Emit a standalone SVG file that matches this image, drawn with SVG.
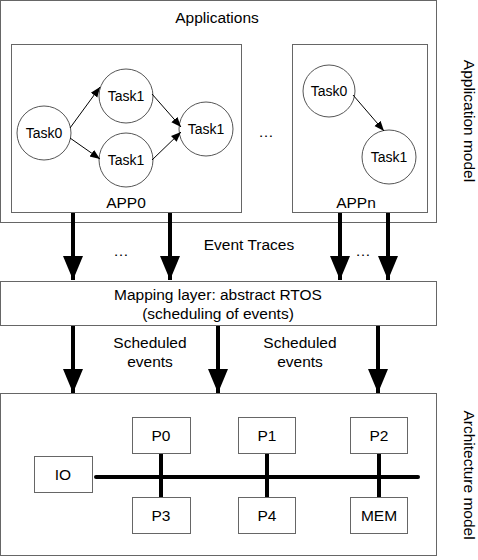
<svg xmlns="http://www.w3.org/2000/svg" width="478" height="560" viewBox="0 0 478 560">
<style>
text{font-family:"Liberation Sans",Arial,sans-serif;font-size:15.5px;fill:#000;text-anchor:middle}
text.t{font-size:14px}
.box{fill:#fff;stroke:#666;stroke-width:1}
.c{fill:#fff;stroke:#555;stroke-width:1}
.thin{stroke:#000;stroke-width:1;fill:none}
.thick{stroke:#000;stroke-width:4;fill:none}
</style>
<defs>
<marker id="ah" viewBox="0 0 10 10" refX="10" refY="5" markerWidth="10" markerHeight="10" markerUnits="userSpaceOnUse" orient="auto"><path d="M0,1 L10,5 L0,9 Z" fill="#000"/></marker>
<marker id="bh" viewBox="0 0 24 20" refX="24" refY="10" markerWidth="24" markerHeight="20" markerUnits="userSpaceOnUse" orient="auto"><path d="M0,0 L24,10 L0,20 Z" fill="#000"/></marker>
</defs>
<g id="applications">
<rect class="box" x="0.5" y="0.5" width="436" height="222"/>
<text x="217" y="23">Applications</text>
</g>
<g id="app0">
<rect class="box" x="11.5" y="44.5" width="230" height="168"/>
<text x="126" y="208">APP0</text>
</g>
<g id="appn">
<rect class="box" x="292.5" y="44.5" width="135" height="168"/>
<text x="356" y="208">APPn</text>
</g>
<g id="app0-task0"><circle class="c" cx="44" cy="133" r="27"/><text class="t" x="44" y="138">Task0</text></g>
<g id="app0-task1a"><circle class="c" cx="126" cy="96" r="27"/><text class="t" x="126" y="101">Task1</text></g>
<g id="app0-task1b"><circle class="c" cx="126" cy="160" r="27"/><text class="t" x="126" y="165">Task1</text></g>
<g id="app0-task1c"><circle class="c" cx="206" cy="129" r="27"/><text class="t" x="206" y="134">Task1</text></g>
<g id="appn-task0"><circle class="c" cx="329" cy="91" r="26"/><text class="t" x="329" y="96">Task0</text></g>
<g id="appn-task1"><circle class="c" cx="389" cy="157" r="27"/><text class="t" x="389" y="162">Task1</text></g>
<g id="mapping">
<rect class="box" x="0.5" y="281.5" width="436" height="44"/>
<text x="218" y="300">Mapping layer: abstract RTOS</text>
<text x="218" y="319">(scheduling of events)</text>
</g>
<g id="architecture">
<rect class="box" x="0.5" y="393.5" width="436" height="162"/>
</g>
<g id="io"><rect class="box" x="34.5" y="456.5" width="58" height="36"/><text x="63" y="480">IO</text></g>
<g id="p0"><rect class="box" x="132.5" y="417.5" width="58" height="36"/><text x="161" y="441">P0</text></g>
<g id="p1"><rect class="box" x="238.5" y="417.5" width="57" height="36"/><text x="267" y="441">P1</text></g>
<g id="p2"><rect class="box" x="350.5" y="417.5" width="57" height="36"/><text x="379" y="441">P2</text></g>
<g id="p3"><rect class="box" x="132.5" y="497.5" width="58" height="36"/><text x="161" y="521">P3</text></g>
<g id="p4"><rect class="box" x="238.5" y="497.5" width="57" height="36"/><text x="267" y="521">P4</text></g>
<g id="mem"><rect class="box" x="350.5" y="497.5" width="57" height="36"/><text x="379" y="521">MEM</text></g>
<g id="connectors">
<line class="thin" x1="70" y1="128" x2="100" y2="87" marker-end="url(#ah)"/>
<line class="thin" x1="70" y1="138" x2="100" y2="159" marker-end="url(#ah)"/>
<line class="thin" x1="152" y1="94" x2="181" y2="127" marker-end="url(#ah)"/>
<line class="thin" x1="152" y1="160" x2="181" y2="132" marker-end="url(#ah)"/>
<line class="thin" x1="353" y1="95" x2="384" y2="131" marker-end="url(#ah)"/>
<line class="thick" x1="73" y1="213" x2="73" y2="280" marker-end="url(#bh)"/>
<line class="thick" x1="170" y1="213" x2="170" y2="280" marker-end="url(#bh)"/>
<line class="thick" x1="340" y1="213" x2="340" y2="280" marker-end="url(#bh)"/>
<line class="thick" x1="388" y1="213" x2="388" y2="280" marker-end="url(#bh)"/>
<line class="thick" x1="73" y1="326" x2="73" y2="393" marker-end="url(#bh)"/>
<line class="thick" x1="218" y1="326" x2="218" y2="393" marker-end="url(#bh)"/>
<line class="thick" x1="378" y1="326" x2="378" y2="393" marker-end="url(#bh)"/>
<line class="thick" x1="96" y1="477" x2="418" y2="477" stroke-linecap="round"/>
<line class="thick" x1="161" y1="454" x2="161" y2="497"/>
<line class="thick" x1="267" y1="454" x2="267" y2="497"/>
<line class="thick" x1="379" y1="454" x2="379" y2="497"/>
</g>
<g id="labels">
<text x="266" y="137">…</text>
<text x="249" y="250">Event Traces</text>
<text x="121" y="256">…</text>
<text x="363" y="256">…</text>
<text x="150" y="348">Scheduled</text>
<text x="150" y="367">events</text>
<text x="300" y="348">Scheduled</text>
<text x="300" y="367">events</text>
<text transform="translate(464,121) rotate(90)">Application model</text>
<text transform="translate(464,475) rotate(90)">Architecture model</text>
</g>
</svg>
